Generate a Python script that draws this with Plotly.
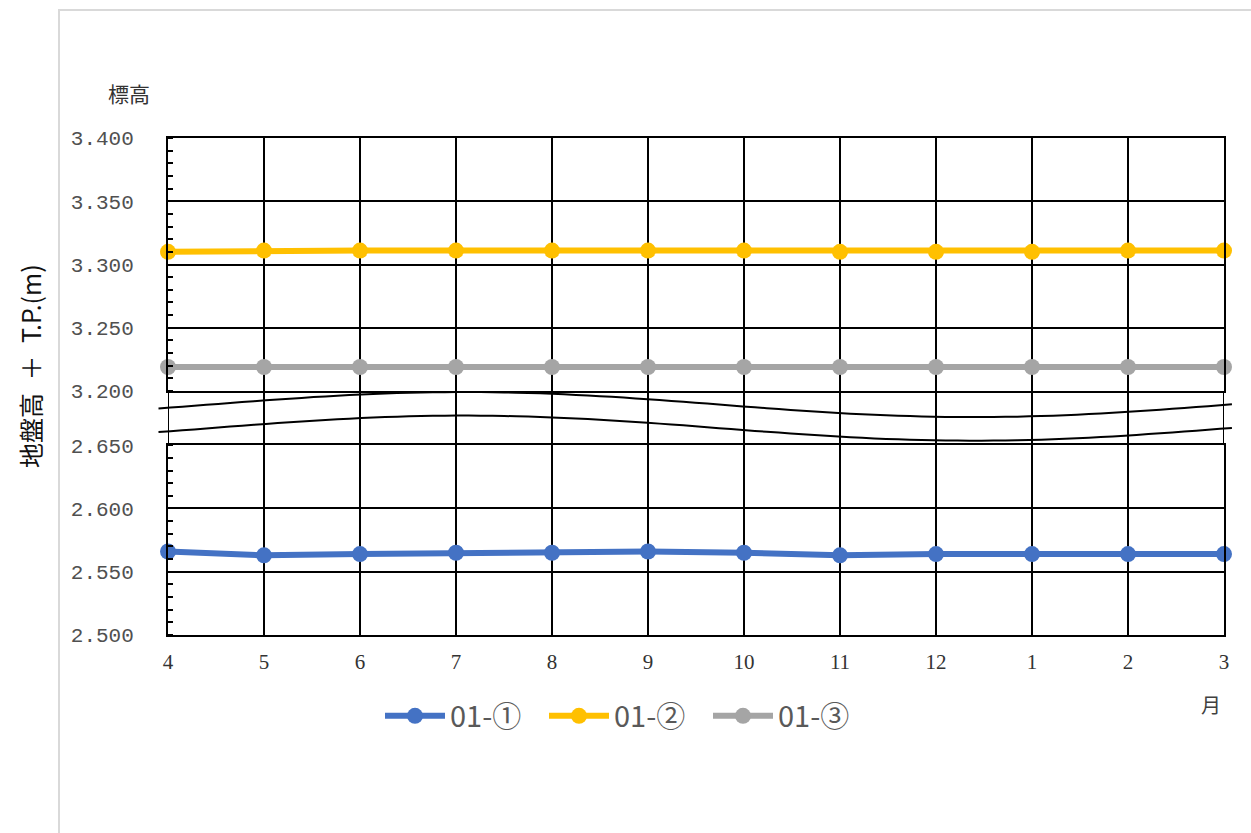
import math
import plotly.graph_objects as go
from plotly.subplots import make_subplots

# ---- data -------------------------------------------------------------
months = ["4", "5", "6", "7", "8", "9", "10", "11", "12", "1", "2", "3"]
series_names = ["01-①", "01-②", "01-③"]
s01_1 = [2.566, 2.563, 2.564, 2.565, 2.565, 2.566, 2.565, 2.563, 2.564, 2.564, 2.564, 2.564]
s01_2 = [3.310, 3.311, 3.311, 3.311, 3.311, 3.311, 3.311, 3.310, 3.310, 3.310, 3.311, 3.311]
s01_3 = [3.219, 3.219, 3.219, 3.219, 3.219, 3.219, 3.219, 3.219, 3.219, 3.219, 3.219, 3.219]
upper_ticks = [3.200, 3.250, 3.300, 3.350, 3.400]
lower_ticks = [2.500, 2.550, 2.600, 2.650]
colors = ["#4472C4", "#FFC000", "#A5A5A5"]

# ---- page geometry ----------------------------------------------------
W, H = 1251, 833
L, R, T, B = 168, 27, 138, 833 - 635
PW, PH = W - L - R, H - T - B
UPPER_H, GAP_H, LOWER_H = 252, 54, 189


def px_x(x):
    return (x - L) / PW


def px_y(y):
    return (H - B - y) / PH


# broken axis: upper part and lower part with a break band between them
fig = make_subplots(rows=2, cols=1, shared_xaxes=True,
                    vertical_spacing=GAP_H / (UPPER_H + GAP_H + LOWER_H),
                    row_heights=[UPPER_H, LOWER_H])

fig.add_trace(go.Scatter(x=months, y=s01_1, name=series_names[0], mode="lines+markers",
                         line=dict(color=colors[0], width=6), marker=dict(size=16, color=colors[0]),
                         cliponaxis=False), row=2, col=1)
fig.add_trace(go.Scatter(x=months, y=s01_2, name=series_names[1], mode="lines+markers",
                         line=dict(color=colors[1], width=6), marker=dict(size=16, color=colors[1]),
                         cliponaxis=False), row=1, col=1)
fig.add_trace(go.Scatter(x=months, y=s01_3, name=series_names[2], mode="lines+markers",
                         line=dict(color=colors[2], width=6), marker=dict(size=16, color=colors[2]),
                         cliponaxis=False), row=1, col=1)

axis_line = dict(showline=True, linecolor="black", linewidth=2, mirror=True)
for i in (1, 2):
    fig.update_xaxes(type="category", categoryorder="array", categoryarray=months,
                     range=[0, len(months) - 1], showgrid=True, gridcolor="black", gridwidth=2,
                     ticks="", zeroline=False, **axis_line, row=i, col=1)
fig.update_xaxes(showticklabels=False, row=1, col=1)
fig.update_xaxes(showticklabels=True, ticklabelstandoff=7,
                 tickfont=dict(family="Liberation Serif", size=21, color="#333333"),
                 row=2, col=1)

ytick_font = dict(family="Liberation Mono", size=21, color="#505050")
minor = dict(dtick=0.01, ticks="inside", ticklen=5, tickwidth=2, tickcolor="black", showgrid=False)
fig.update_yaxes(range=[3.2, 3.4], tickvals=upper_ticks, tickformat=".3f",
                 showgrid=True, gridcolor="black", gridwidth=2, ticks="", zeroline=False,
                 tickfont=ytick_font, ticklabelstandoff=28, minor=minor, **axis_line,
                 row=1, col=1)
fig.update_yaxes(range=[2.5, 2.65], tickvals=lower_ticks, tickformat=".3f",
                 showgrid=True, gridcolor="black", gridwidth=2, ticks="", zeroline=False,
                 tickfont=ytick_font, ticklabelstandoff=28, minor=minor, **axis_line,
                 row=2, col=1)

# vertical extent of the break band (paper units)
gap_bottom = fig.layout.yaxis2.domain[1]
gap_top = fig.layout.yaxis.domain[0]

# hidden axis spanning the break band; month gridlines continue through it
fig.update_layout(yaxis3=dict(domain=[gap_bottom, gap_top], range=[0, 1], anchor="x2",
                              visible=False, fixedrange=True))
band_x, band_y = [], []
for m in months:
    band_x += [m, m, None]
    band_y += [0, 1, None]
fig.add_trace(go.Scatter(x=band_x, y=band_y, xaxis="x2", yaxis="y3", mode="lines",
                         line=dict(color="black", width=2), showlegend=False,
                         hoverinfo="skip", cliponaxis=False))


# wavy break marks across the band
def wave_path(mean, amp=0.231, phase=0.281, period=0.965, x0=-0.009, x1=1.0075, n=90):
    pts = []
    for k in range(n + 1):
        xd = x0 + (x1 - x0) * k / n
        frac = mean + amp * math.cos(2 * math.pi * (xd - phase) / period)
        yp = gap_bottom + frac * (gap_top - gap_bottom)
        pts.append(f"{xd:.4f},{yp:.4f}")
    return "M" + " L".join(pts)


shapes = []
for mean in (0.75, 0.315):
    shapes.append(dict(type="path", path=wave_path(mean), xref="paper", yref="paper",
                       line=dict(color="black", width=2), layer="above"))

# light frame around the chart area
shapes.append(dict(type="path", xref="paper", yref="paper", layer="below",
                   path=f"M{px_x(59):.4f},{px_y(833):.4f} L{px_x(59):.4f},{px_y(10):.4f} "
                        f"L{px_x(1260):.4f},{px_y(10):.4f}",
                   line=dict(color="#d9d9d9", width=2)))

annotations = [
    dict(text="標高", x=px_x(129), y=px_y(93), xref="paper", yref="paper",
         showarrow=False, xanchor="center", yanchor="middle",
         font=dict(family="Noto Sans CJK JP", size=21, color="#333333")),
    dict(text="地盤高\u2002＋\u2002T.P.(m)", x=px_x(30), y=px_y(366), xref="paper", yref="paper",
         showarrow=False, xanchor="center", yanchor="middle", textangle=-90,
         font=dict(family="Noto Sans CJK JP", size=25, color="#111111")),
    dict(text="月", x=px_x(1211), y=px_y(704), xref="paper", yref="paper",
         showarrow=False, xanchor="center", yanchor="middle",
         font=dict(family="Noto Sans CJK JP", size=20, color="#404040")),
]

fig.update_layout(
    width=W, height=H, autosize=False,
    margin=dict(l=L, r=R, t=T, b=B),
    paper_bgcolor="white", plot_bgcolor="white",
    shapes=shapes, annotations=annotations,
    showlegend=True,
    legend=dict(orientation="h", x=px_x(626), y=px_y(716), xanchor="center", yanchor="middle",
                itemwidth=60, entrywidth=89,
                font=dict(family="Noto Sans CJK JP", size=29, color="#595959"),
                bgcolor="rgba(0,0,0,0)", traceorder="normal"),
)

fig.write_html("out.html")
